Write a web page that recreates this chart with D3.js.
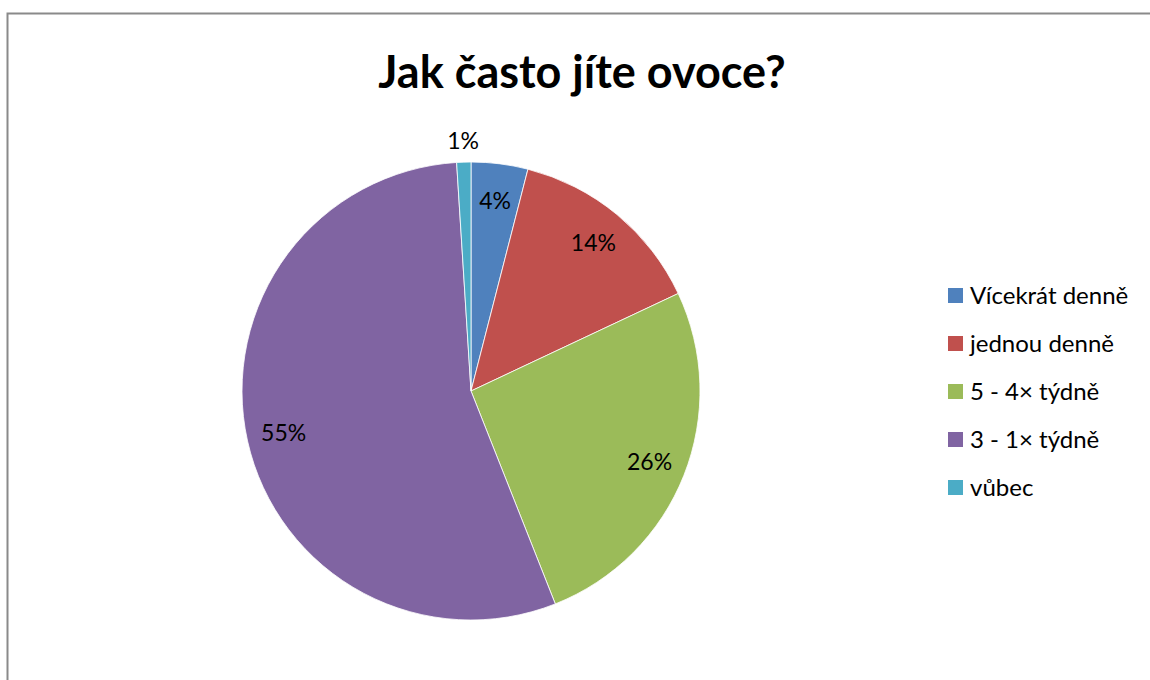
<!DOCTYPE html>
<html>
<head>
<meta charset="utf-8">
<script src="https://cdn.jsdelivr.net/npm/d3@7"></script>
<style>
html,body{margin:0;padding:0;background:#fff;}
svg{display:block;}
</style>
</head>
<body>
<svg id="chart" width="1150" height="680"></svg>
<script>
const title = "Jak často jíte ovoce?";
const categories = ["Vícekrát denně", "jednou denně", "5 - 4× týdně", "3 - 1× týdně", "vůbec"];
const values = [4, 14, 26, 55, 1];
const colors = ["#4F81BD", "#C0504D", "#9BBB59", "#8064A2", "#4BACC6"];

const svg = d3.select("#chart");
const font = "Lato, 'Open Sans', sans-serif";

// frame
svg.append("rect").attr("x", 7.5).attr("y", 13.5).attr("width", 1160).attr("height", 700)
  .attr("fill", "#fff").attr("stroke", "#8a8a8a").attr("stroke-width", 2);

svg.append("text").attr("x", 582).attr("y", 88).attr("text-anchor", "middle")
  .attr("font-family", font).attr("font-weight", "bold").attr("font-size", 45)
  .attr("fill", "#000").text(title);

const cx = 471, cy = 391, r = 229;
const data = categories.map((c, i) => ({cat: c, value: values[i], color: colors[i]}));
const pie = d3.pie().value(d => d.value).sort(null);
const arcs = pie(data);
const arc = d3.arc().innerRadius(0).outerRadius(r);
const labelArc = d3.arc().innerRadius(192).outerRadius(192);
const outerLabelArc = d3.arc().innerRadius(250).outerRadius(250);

const g = svg.append("g").attr("transform", `translate(${cx},${cy})`);
g.selectAll("path").data(arcs).join("path")
  .attr("d", arc).attr("fill", d => d.data.color)
  .attr("stroke", "#fff").attr("stroke-width", 0.8);

g.selectAll("text.lbl").data(arcs).join("text").attr("class", "lbl")
  .attr("transform", d => {
    const c = (d.data.value < 2 ? outerLabelArc : labelArc).centroid(d);
    return `translate(${c[0]},${c[1]})`;
  })
  .attr("text-anchor", "middle").attr("dy", "0.35em")
  .attr("font-family", font).attr("font-size", 23).attr("fill", "#000")
  .text(d => d.data.value + "%");

// legend
const lg = svg.append("g").attr("transform", "translate(948,296)");
const rows = lg.selectAll("g").data(data).join("g")
  .attr("transform", (d, i) => `translate(0,${i * 48})`);
rows.append("rect").attr("x", 0).attr("y", -8).attr("width", 15).attr("height", 15)
  .attr("fill", d => d.color);
rows.append("text").attr("x", 22).attr("y", 0).attr("dy", "0.35em")
  .attr("font-family", font).attr("font-size", 24).attr("fill", "#000")
  .text(d => d.cat);
</script>
</body>
</html>
